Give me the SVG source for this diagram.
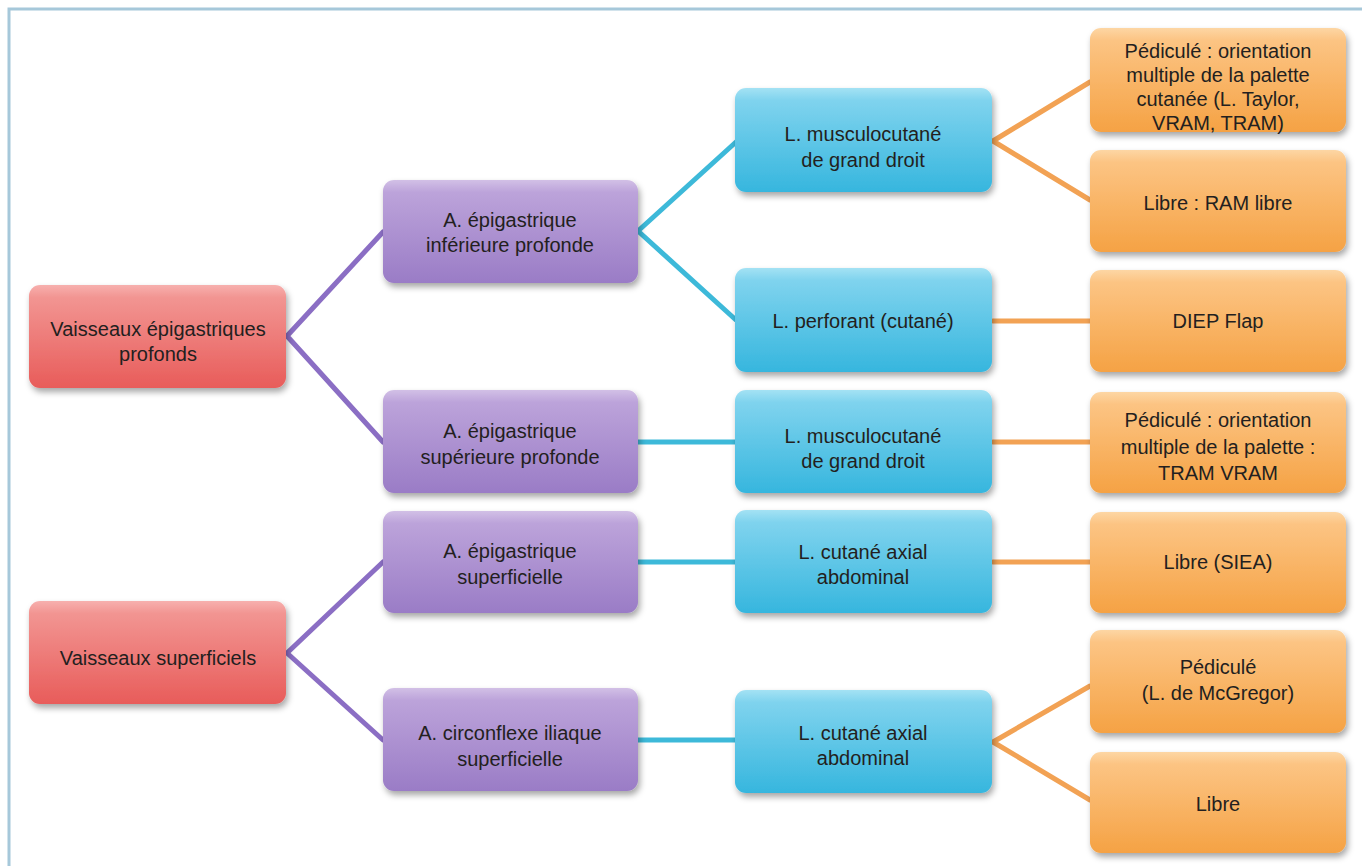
<svg xmlns="http://www.w3.org/2000/svg" width="1362" height="866" viewBox="0 0 1362 866">
<defs>
<linearGradient id="gRed" x1="0" y1="0" x2="0" y2="1">
<stop offset="0" stop-color="#f7b0ae"/><stop offset="0.12" stop-color="#f29592"/><stop offset="1" stop-color="#e85c5a"/>
</linearGradient>
<linearGradient id="gPur" x1="0" y1="0" x2="0" y2="1">
<stop offset="0" stop-color="#d2c0e6"/><stop offset="0.12" stop-color="#bca3da"/><stop offset="1" stop-color="#9a7cc6"/>
</linearGradient>
<linearGradient id="gBlu" x1="0" y1="0" x2="0" y2="1">
<stop offset="0" stop-color="#a4e2f4"/><stop offset="0.12" stop-color="#7fd3ee"/><stop offset="1" stop-color="#36b6de"/>
</linearGradient>
<linearGradient id="gOra" x1="0" y1="0" x2="0" y2="1">
<stop offset="0" stop-color="#fdd6a4"/><stop offset="0.12" stop-color="#fcc483"/><stop offset="1" stop-color="#f5a244"/>
</linearGradient>
<filter id="sh" x="-10%" y="-10%" width="125%" height="135%">
<feDropShadow dx="2" dy="4" stdDeviation="3" flood-color="#000" flood-opacity="0.35"/>
</filter>
</defs>
<style>
.box{filter:url(#sh);}
.red{fill:url(#gRed);}
.pur{fill:url(#gPur);}
.blu{fill:url(#gBlu);}
.ora{fill:url(#gOra);}
text{font-family:"Liberation Sans",Arial,sans-serif;font-size:20px;fill:#231f20;text-anchor:middle;}
.cp{stroke:#8b6ec4;stroke-width:5;fill:none;stroke-linecap:round;stroke-linejoin:round;}
.cb{stroke:#3db9d9;stroke-width:5;fill:none;stroke-linecap:round;stroke-linejoin:round;}
.co{stroke:#f2a254;stroke-width:5;fill:none;stroke-linecap:round;stroke-linejoin:round;}
</style>
<rect width="1362" height="866" fill="#ffffff"/>
<path d="M9,866 V9 H1362" fill="none" stroke="#a6c8da" stroke-width="3"/>

<g id="connectors">
<path class="cp" d="M383,232 L287,336 L383,442"/>
<path class="cp" d="M383,562 L287,653 L383,740"/>
<path class="cb" d="M736,142 L638,231 L736,320"/>
<path class="cb" d="M638,442 H736"/>
<path class="cb" d="M638,562 H736"/>
<path class="cb" d="M638,740 H736"/>
<path class="co" d="M1090,82 L993,141 L1090,200"/>
<path class="co" d="M993,321 H1090"/>
<path class="co" d="M993,442 H1090"/>
<path class="co" d="M993,562 H1090"/>
<path class="co" d="M1090,686 L993,742 L1090,800"/>
</g>

<g id="n-red1"><rect class="box red" x="29" y="285" width="257" height="103" rx="11"/>
<text x="158" y="336">Vaisseaux épigastriques</text><text x="158" y="361">profonds</text></g>
<g id="n-red2"><rect class="box red" x="29" y="601" width="257" height="103" rx="11"/>
<text x="158" y="665">Vaisseaux superficiels</text></g>

<g id="n-pur1"><rect class="box pur" x="383" y="180" width="255" height="103" rx="11"/>
<text x="510" y="227">A. épigastrique</text><text x="510" y="252">inférieure profonde</text></g>
<g id="n-pur2"><rect class="box pur" x="383" y="390" width="255" height="103" rx="11"/>
<text x="510" y="438">A. épigastrique</text><text x="510" y="464">supérieure profonde</text></g>
<g id="n-pur3"><rect class="box pur" x="383" y="511" width="255" height="102" rx="11"/>
<text x="510" y="558">A. épigastrique</text><text x="510" y="584">superficielle</text></g>
<g id="n-pur4"><rect class="box pur" x="383" y="688" width="255" height="103" rx="11"/>
<text x="510" y="740">A. circonflexe iliaque</text><text x="510" y="766">superficielle</text></g>

<g id="n-blu1"><rect class="box blu" x="735" y="88" width="257" height="104" rx="11"/>
<text x="863" y="141">L. musculocutané</text><text x="863" y="167">de grand droit</text></g>
<g id="n-blu2"><rect class="box blu" x="735" y="268" width="257" height="104" rx="11"/>
<text x="863" y="328">L. perforant (cutané)</text></g>
<g id="n-blu3"><rect class="box blu" x="735" y="390" width="257" height="103" rx="11"/>
<text x="863" y="443">L. musculocutané</text><text x="863" y="468">de grand droit</text></g>
<g id="n-blu4"><rect class="box blu" x="735" y="510" width="257" height="103" rx="11"/>
<text x="863" y="559">L. cutané axial</text><text x="863" y="584">abdominal</text></g>
<g id="n-blu5"><rect class="box blu" x="735" y="690" width="257" height="103" rx="11"/>
<text x="863" y="740">L. cutané axial</text><text x="863" y="765">abdominal</text></g>

<g id="n-ora1"><rect class="box ora" x="1090" y="28" width="256" height="104" rx="11"/>
<text x="1218" y="58">Pédiculé : orientation</text><text x="1218" y="82">multiple de la palette</text><text x="1218" y="106">cutanée (L. Taylor,</text><text x="1218" y="130">VRAM, TRAM)</text></g>
<g id="n-ora2"><rect class="box ora" x="1090" y="150" width="256" height="102" rx="11"/>
<text x="1218" y="210">Libre : RAM libre</text></g>
<g id="n-ora3"><rect class="box ora" x="1090" y="270" width="256" height="102" rx="11"/>
<text x="1218" y="328">DIEP Flap</text></g>
<g id="n-ora4"><rect class="box ora" x="1090" y="392" width="256" height="101" rx="11"/>
<text x="1218" y="427">Pédiculé : orientation</text><text x="1218" y="454">multiple de la palette :</text><text x="1218" y="480">TRAM VRAM</text></g>
<g id="n-ora5"><rect class="box ora" x="1090" y="512" width="256" height="101" rx="11"/>
<text x="1218" y="569">Libre (SIEA)</text></g>
<g id="n-ora6"><rect class="box ora" x="1090" y="630" width="256" height="103" rx="11"/>
<text x="1218" y="674">Pédiculé</text><text x="1218" y="700">(L. de McGregor)</text></g>
<g id="n-ora7"><rect class="box ora" x="1090" y="752" width="256" height="101" rx="11"/>
<text x="1218" y="811">Libre</text></g>
</svg>
